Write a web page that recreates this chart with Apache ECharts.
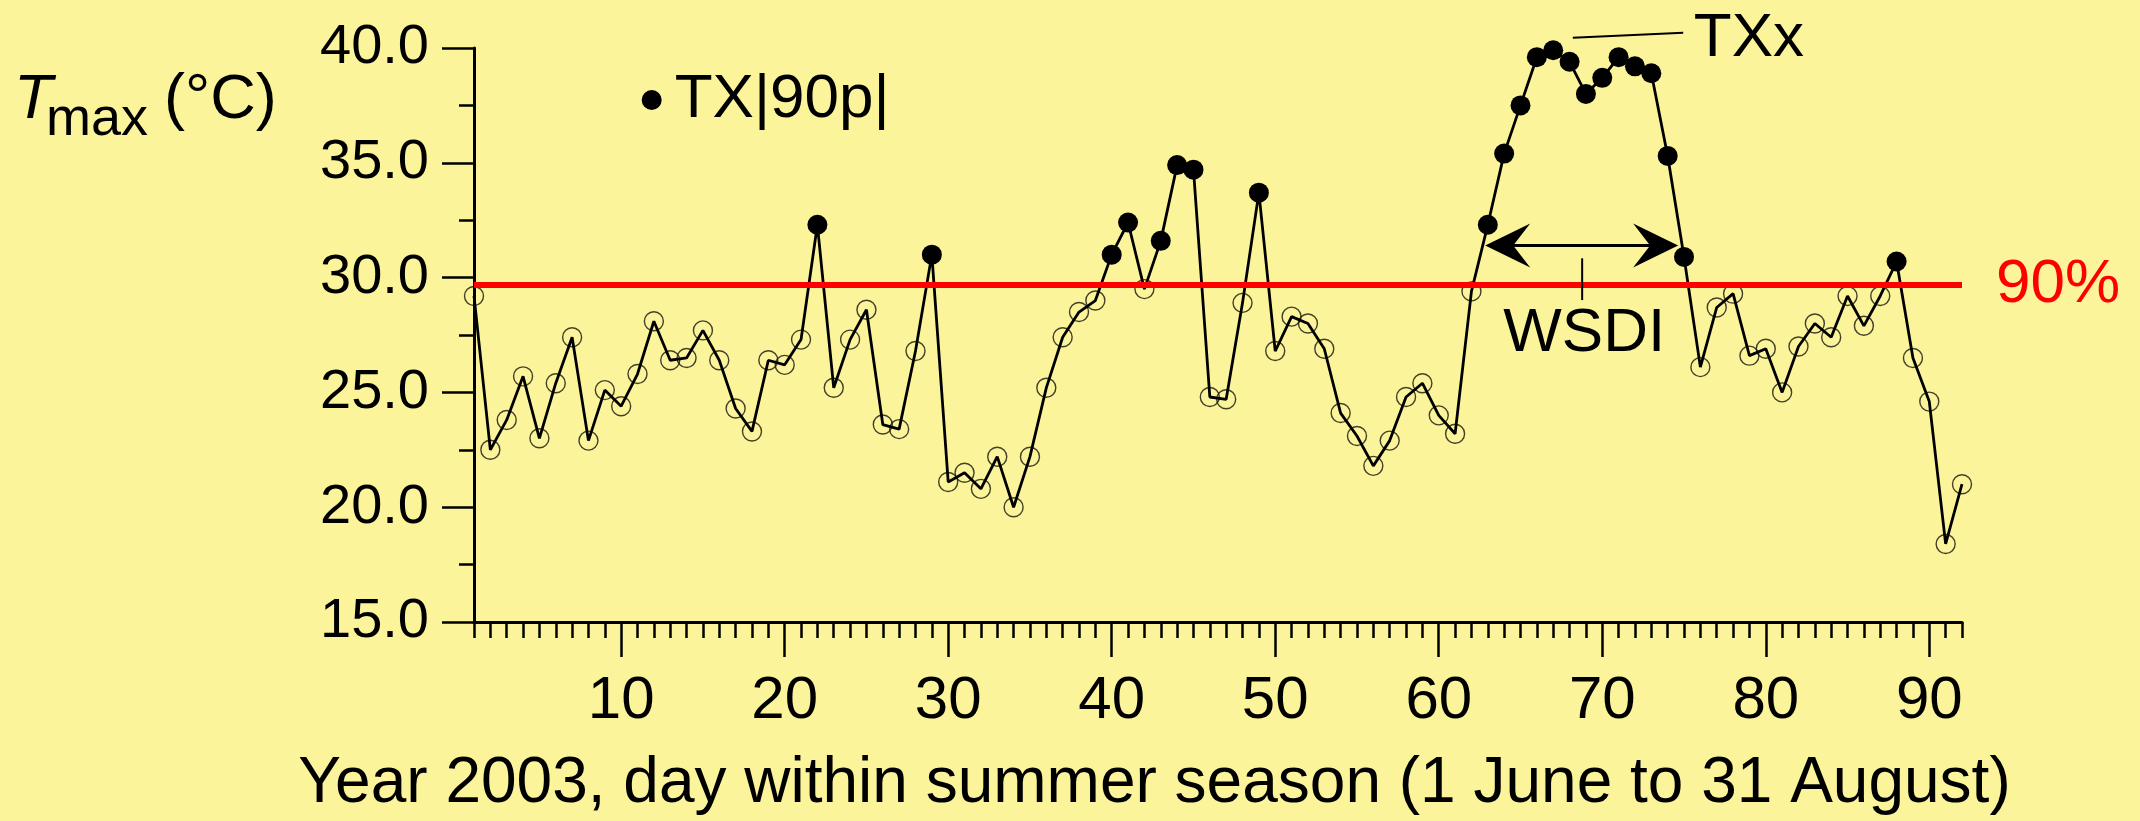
<!DOCTYPE html>
<html>
<head>
<meta charset="utf-8">
<title>Tmax summer 2003</title>
<script src="https://cdn.jsdelivr.net/npm/echarts@6/dist/echarts.min.js"></script>
<style>
  html, body { margin: 0; padding: 0; background: #FBF49B; }
  #chart { width: 2140px; height: 821px; }
</style>
</head>
<body>
<div id="chart"></div>
<script>
// Daily maximum temperature, summer 2003: day 1 = 1 June ... day 92 = 31 August
const days = Array.from({ length: 92 }, (_, i) => i + 1);
const tmax = [
  29.2, 22.5, 23.8, 25.7, 23.0, 25.4, 27.4, 22.9, 25.1, 24.4,
  25.8, 28.1, 26.4, 26.5, 27.7, 26.4, 24.3, 23.3, 26.4, 26.2,
  27.3, 32.3, 25.2, 27.3, 28.6, 23.6, 23.4, 26.8, 31.0, 21.1,
  21.5, 20.8, 22.2, 20.0, 22.2, 25.2, 27.4, 28.5, 29.0, 31.0,
  32.4, 29.5, 31.6, 34.9, 34.7, 24.8, 24.7, 28.9, 33.7, 26.8,
  28.3, 28.0, 26.9, 24.1, 23.1, 21.8, 22.9, 24.8, 25.4, 24.0,
  23.2, 29.4, 32.3, 35.4, 37.5, 39.6, 39.9, 39.4, 38.0, 38.7,
  39.6, 39.2, 38.9, 35.3, 30.9, 26.1, 28.7, 29.3, 26.6, 26.9,
  25.0, 27.0, 28.0, 27.4, 29.2, 27.9, 29.2, 30.7, 26.5, 24.6,
  18.4, 21.0
];
// 90th percentile threshold (°C)
const p90 = 29.7;
const majorDays = [10, 20, 30, 40, 50, 60, 70, 80, 90];
const yTicks = { min: 15, max: 40, step: 5 };

// Annotation anchors in data units [day, °C]
const txxLeader = [[68.2, 40.45], [74.95, 40.66]];
const txxText = [75.6, 40.41];
const wsdiArrow = [[62.84, 31.4], [74.64, 31.4]];
const wsdiTick = [[68.77, 30.84], [68.77, 29.02]];
const wsdiText = [68.9, 27.55];

const FONT = '"Liberation Sans", Arial, Helvetica, sans-serif';
const FS = 62;

const points = days.map((d, i) => [d, tmax[i]]);
const hotDays = points.filter(p => p[1] > p90);
const otherDays = points.filter(p => p[1] <= p90);

const chart = echarts.init(document.getElementById('chart'));

const tickLine = { color: '#000', width: 2.5 };

chart.setOption({
  backgroundColor: '#FBF49B',
  animation: false,
  textStyle: { fontFamily: FONT, color: '#000' },
  grid: { left: 474, right: 178, top: 48, bottom: 195.5 },
  legend: {
    data: [{ name: 'TX|90p|', icon: 'circle' }],
    left: 641.7, top: 69, padding: 0,
    itemWidth: 20, itemHeight: 20,
    selectedMode: false,
    textStyle: { fontFamily: FONT, fontSize: FS, color: '#000', padding: [0, 0, 0, 8] }
  },
  xAxis: [
    {
      type: 'value', min: 1, max: 92, position: 'bottom',
      axisLine: { show: true, onZero: false, lineStyle: { color: '#000', width: 3 } },
      axisTick: { show: true, customValues: majorDays, length: 35, lineStyle: tickLine },
      axisLabel: { customValues: majorDays, fontFamily: FONT, fontSize: 60, color: '#000', margin: 49 },
      splitLine: { show: false },
      name: 'Year 2003, day within summer season (1 June to 31 August)',
      nameLocation: 'middle', nameGap: 130,
      nameTextStyle: { fontFamily: FONT, fontSize: 64, color: '#000', padding: [0, 127, 0, 0] }
    },
    {
      type: 'value', min: 1, max: 92, interval: 1, position: 'bottom',
      axisLine: { show: false, onZero: false },
      axisTick: { show: true, length: 16, lineStyle: tickLine },
      axisLabel: { show: false },
      splitLine: { show: false }
    }
  ],
  yAxis: {
    type: 'value', min: yTicks.min, max: yTicks.max, interval: yTicks.step,
    axisLine: { show: true, lineStyle: { color: '#000', width: 3 } },
    axisTick: { show: true, length: 32, lineStyle: tickLine },
    minorTick: { show: true, splitNumber: 2, length: 15, lineStyle: tickLine },
    axisLabel: { formatter: v => v.toFixed(1), fontFamily: FONT, fontSize: 56, color: '#000', margin: 45 },
    splitLine: { show: false },
    minorSplitLine: { show: false }
  },
  series: [
    {
      type: 'line', name: 'Tmax', data: points,
      symbol: 'none', showSymbol: false,
      lineStyle: { color: '#000', width: 2.8 },
      z: 3,
      markLine: {
        silent: true, symbol: 'none', animation: false,
        lineStyle: { color: '#FF0000', width: 6, type: 'solid' },
        label: {
          show: true, position: 'end', distance: 34, formatter: '90%',
          fontFamily: FONT, fontSize: FS, color: '#FF0000'
        },
        data: [{ yAxis: p90 }]
      }
    },
    {
      type: 'scatter', name: 'other days', data: otherDays,
      symbol: 'circle', symbolSize: 19,
      itemStyle: { color: 'rgba(0,0,0,0)', borderColor: 'rgba(20,20,10,0.8)', borderWidth: 1.4, opacity: 1 },
      z: 2
    },
    {
      type: 'scatter', name: 'TX|90p|', data: hotDays,
      symbol: 'circle', symbolSize: 20,
      itemStyle: { color: '#000', opacity: 1 },
      z: 4
    }
  ]
});

// Annotations placed through the chart's own coordinate conversion
function px(p) { return chart.convertToPixel({ seriesIndex: 0 }, p); }
function arrowHead(tip, dir) {
  const L = 45, H = 22, N = 28;
  return {
    type: 'polygon', silent: true, z: 10,
    shape: { points: [
      [tip[0], tip[1]],
      [tip[0] - dir * L, tip[1] - H],
      [tip[0] - dir * N, tip[1]],
      [tip[0] - dir * L, tip[1] + H]
    ] },
    style: { fill: '#000' }
  };
}

const lA = px(txxLeader[0]), lB = px(txxLeader[1]);
const tT = px(txxText);
const aA = px(wsdiArrow[0]), aB = px(wsdiArrow[1]);
const kA = px(wsdiTick[0]), kB = px(wsdiTick[1]);
const wT = px(wsdiText);

chart.setOption({
  graphic: [
    // y-axis title: T_max (°C)
    { type: 'text', left: 14, top: 100.4 - FS / 2, silent: true,
      style: { text: 'T', font: 'italic 63px ' + FONT, fill: '#000', verticalAlign: 'top' } },
    { type: 'text', left: 46, top: 120.3 - 27, silent: true,
      style: { text: 'max', font: '54px ' + FONT, fill: '#000', verticalAlign: 'top' } },
    { type: 'text', left: 164, top: 100.5 - 31.5, silent: true,
      style: { text: '(°C)', font: '63px ' + FONT, fill: '#000', verticalAlign: 'top' } },
    // TXx leader and label
    { type: 'line', silent: true, z: 10,
      shape: { x1: lA[0], y1: lA[1], x2: lB[0], y2: lB[1] },
      style: { stroke: '#000', lineWidth: 2 } },
    { type: 'text', x: tT[0], y: tT[1], silent: true, z: 10,
      style: { text: 'TXx', font: FS + 'px ' + FONT, fill: '#000', align: 'left', verticalAlign: 'middle' } },
    // WSDI double arrow, tick and label
    { type: 'line', silent: true, z: 10,
      shape: { x1: aA[0] + 10, y1: aA[1], x2: aB[0] - 10, y2: aB[1] },
      style: { stroke: '#000', lineWidth: 3 } },
    arrowHead(aA, -1),
    arrowHead(aB, 1),
    { type: 'line', silent: true, z: 10,
      shape: { x1: kA[0], y1: kA[1], x2: kB[0], y2: kB[1] },
      style: { stroke: '#000', lineWidth: 2 } },
    { type: 'text', x: wT[0], y: wT[1], silent: true, z: 10,
      style: { text: 'WSDI', font: FS + 'px ' + FONT, fill: '#000', align: 'center', verticalAlign: 'middle' } }
  ]
});
</script>
</body>
</html>
